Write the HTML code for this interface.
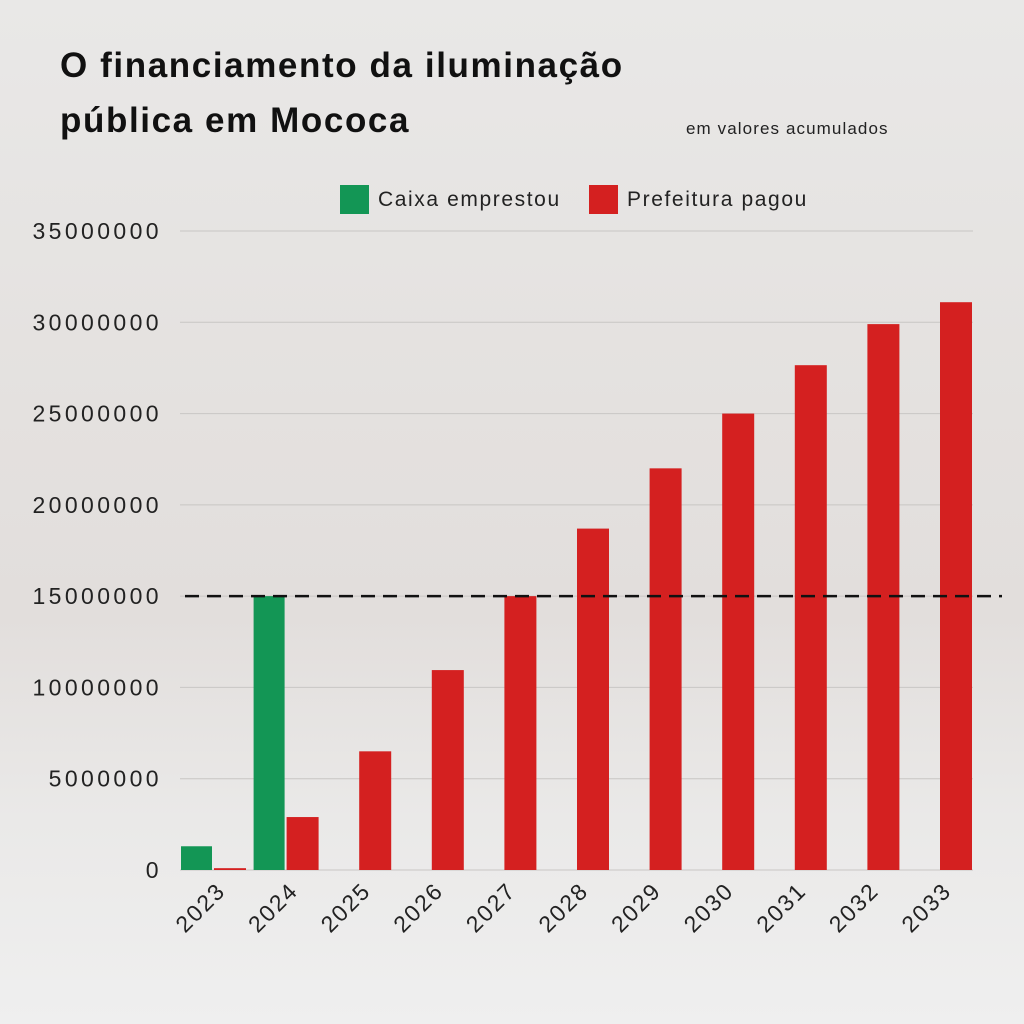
<!DOCTYPE html>
<html><head><meta charset="utf-8"><style>
body{margin:0;width:1024px;height:1024px;overflow:hidden;font-family:"Liberation Sans",sans-serif;}
#bg{position:absolute;left:0;top:0;width:1024px;height:1024px;background:linear-gradient(180deg,#e9e8e7 0%,#e4e1df 40%,#e2dedc 60%,#eae9e8 80%,#efefef 100%);}
</style></head><body>
<div id="bg"></div>
<svg id="chart" width="1024" height="1024" style="position:absolute;left:0;top:0">
<text x="60" y="77" font-size="35" font-weight="bold" fill="#111" letter-spacing="1.6">O financiamento da iluminação</text>
<text x="60" y="132" font-size="35" font-weight="bold" fill="#111" letter-spacing="1.6">pública em Mococa</text>
<text x="686" y="134" font-size="17" fill="#222" letter-spacing="1.1">em valores acumulados</text>
<rect x="340" y="185" width="29" height="29" fill="#139655"/>
<text x="378" y="206" font-size="21" fill="#222" letter-spacing="1.6">Caixa emprestou</text>
<rect x="589" y="185" width="29" height="29" fill="#d42020"/>
<text x="627" y="206" font-size="21" fill="#222" letter-spacing="1.6">Prefeitura pagou</text>
<g id="grid"></g><g id="bars"></g><g id="labels"></g>
</svg>
<script>
const categories=["2023","2024","2025","2026","2027","2028","2029","2030","2031","2032","2033"];
const caixa=[1300000,15000000,null,null,null,null,null,null,null,null,null];
const prefeitura=[100000,2900000,6500000,10950000,15000000,18700000,22000000,25000000,27650000,29900000,31100000];
const yTicks=[0,5000000,10000000,15000000,20000000,25000000,30000000,35000000];
const refLine=15000000;
const NS="http://www.w3.org/2000/svg";
const y=v=>870-v/35000000*639;
const x0=181,step=72.6,bw=31;
const gx=i=>x0+i*step;
function mk(t,a,p){const e=document.createElementNS(NS,t);for(const k in a)e.setAttribute(k,a[k]);p.appendChild(e);return e;}
const grid=document.getElementById('grid'),bars=document.getElementById('bars'),labels=document.getElementById('labels');
yTicks.forEach(v=>{
 const l=mk('line',{x1:180,x2:973,y1:y(v),y2:y(v),stroke:'#c8c6c4','stroke-width':1},grid);
 
 
 const t=mk('text',{x:162,y:y(v)+8,'text-anchor':'end','font-size':23,'letter-spacing':3.4,fill:'#222'},labels);
 t.textContent=String(v);
 
 
});
categories.forEach((c,i)=>{
 if(caixa[i]!=null){
  const r=mk('rect',{x:gx(i),y:y(caixa[i]),width:bw,height:870-y(caixa[i]),fill:'#139655'},bars);
  
  
 }
 const r2=mk('rect',{x:gx(i)+33,y:y(prefeitura[i]),width:bw+1,height:870-y(prefeitura[i]),fill:'#d42020'},bars);
 
 
 const cx=gx(i)+32,t=mk('text',{x:cx+14,y:892,'text-anchor':'end','font-size':23,'letter-spacing':2,fill:'#222',transform:`rotate(-45 ${cx+14} 892)`},labels);
 t.textContent=c;
 
 
});
const d=mk('line',{x1:185,x2:1002,y1:y(refLine),y2:y(refLine),stroke:'#111','stroke-width':2.5,'stroke-dasharray':'14 8'},bars);


</script>
</body></html>
